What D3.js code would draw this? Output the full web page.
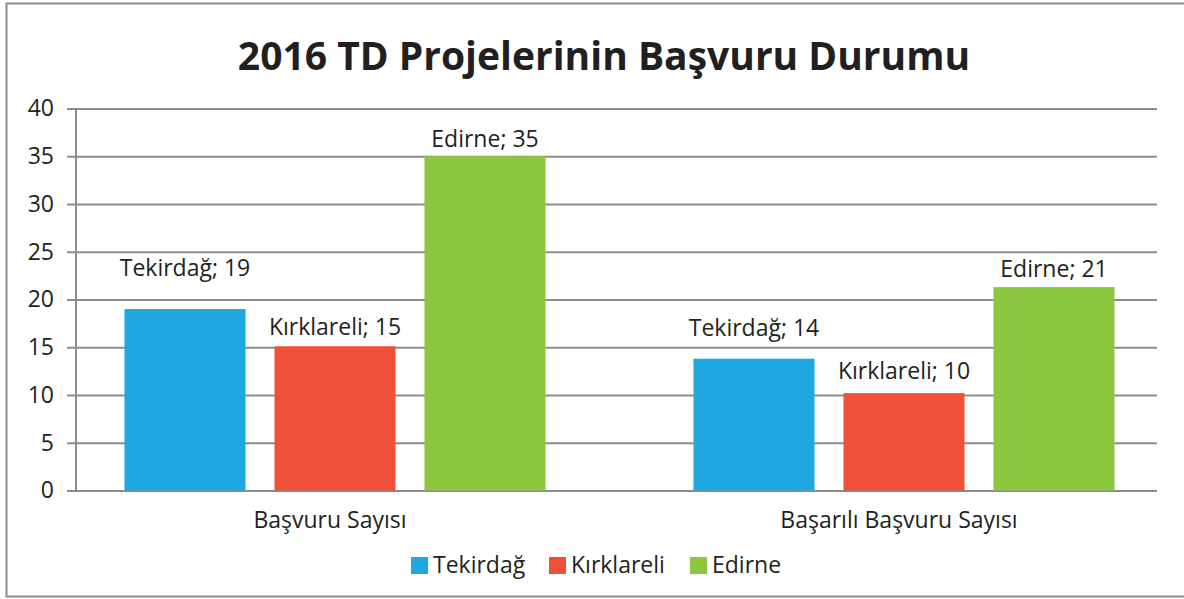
<!DOCTYPE html>
<html>
<head>
<meta charset="utf-8">
<script src="https://cdn.jsdelivr.net/npm/d3@7"></script>
<style>
  body { margin: 0; background: #fff; }
  text { font-family: "Open Sans", "Noto Sans", sans-serif; fill: #231f20; }
</style>
</head>
<body>
<div id="chart"></div>
<script>
const categories = ["Başvuru Sayısı", "Başarılı Başvuru Sayısı"];
const series = ["Tekirdağ", "Kırklareli", "Edirne"];
const tekirdagValues = [19, 13.8];
const kirklareliValues = [15.1, 10.2];
const edirneValues = [35, 21.3];
const yTicks = [0, 5, 10, 15, 20, 25, 30, 35, 40];
const colors = ["#1fa8e0", "#ef5138", "#8dc63f"];
// manual label lift above each bar (px), as in the original layout
const labelLift = [[33, 23], [11, 14], [9, 10]];

const values = [tekirdagValues, kirklareliValues, edirneValues];

const width = 1184, height = 599;
const svg = d3.select("#chart").append("svg").attr("width", width).attr("height", height);

// outer frame
svg.append("rect")
  .attr("x", 6.5).attr("y", 3.5)
  .attr("width", 1190).attr("height", 593)
  .attr("fill", "none").attr("stroke", "#8c8c8c").attr("stroke-width", 2);

svg.append("text")
  .attr("x", 604).attr("y", 70)
  .attr("text-anchor", "middle")
  .style("font-size", "39px").style("font-weight", "bold")
  .text("2016 TD Projelerinin Başvuru Durumu");

const plotLeft = 76, plotRight = 1157;
const y = d3.scaleLinear().domain([0, 40]).range([490.5, 108.5]);

// gridlines + y axis
const yAxis = d3.axisLeft(y).tickValues(yTicks).tickSize(-(plotRight - plotLeft)).tickPadding(22);
const gy = svg.append("g").attr("transform", `translate(${plotLeft},0)`).call(yAxis);
gy.select(".domain").remove();
gy.selectAll(".tick line").attr("x1", -9).attr("stroke", "#8c8c8c").attr("stroke-width", 2);
gy.selectAll(".tick text").style("font-size", "23px").attr("fill", "#231f20");

svg.append("line")
  .attr("x1", plotLeft).attr("x2", plotLeft)
  .attr("y1", y(40)).attr("y2", y(0))
  .attr("stroke", "#8c8c8c").attr("stroke-width", 2);

const x0 = d3.scalePoint().domain(categories).range([335, 904]);
const x1 = d3.scaleBand().domain(series).range([-225, 225]).paddingInner(0.193).paddingOuter(0.0965);

series.forEach((s, si) => {
  const g = svg.append("g");
  g.selectAll("rect").data(values[si]).join("rect")
    .attr("x", (d, i) => x0(categories[i]) + x1(s))
    .attr("y", d => y(d))
    .attr("width", x1.bandwidth())
    .attr("height", d => y(0) - y(d))
    .attr("fill", colors[si]);
  g.selectAll("text").data(values[si]).join("text")
    .attr("x", (d, i) => x0(categories[i]) + x1(s) + x1.bandwidth() / 2)
    .attr("y", (d, i) => y(d) - labelLift[si][i])
    .attr("text-anchor", "middle")
    .style("font-size", "23px")
    .text(d => `${s}; ${d3.format(".0f")(d)}`);
});

// category labels
svg.selectAll(".cat").data(categories).join("text")
  .attr("class", "cat")
  .attr("x", d => x0(d) - 5)
  .attr("y", 528)
  .attr("text-anchor", "middle")
  .style("font-size", "23px")
  .text(d => d);

// legend
const legendX = [411, 549, 690];
const lg = svg.append("g");
series.forEach((s, i) => {
  lg.append("rect").attr("x", legendX[i]).attr("y", 557).attr("width", 17).attr("height", 17).attr("fill", colors[i]);
  lg.append("text").attr("x", legendX[i] + 22).attr("y", 573).style("font-size", "23px").text(s);
});
</script>
</body>
</html>
